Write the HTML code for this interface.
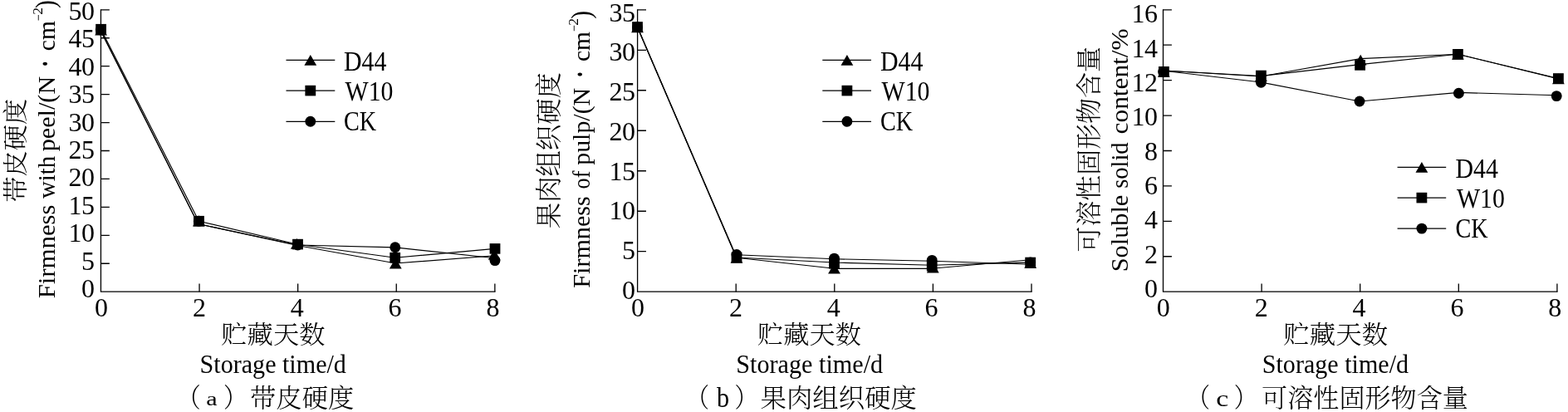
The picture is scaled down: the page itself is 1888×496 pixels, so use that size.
<!DOCTYPE html>
<html lang="zh"><head><meta charset="utf-8"><title>Figure</title>
<style>html,body{margin:0;padding:0;background:#fff}svg{display:block}text{fill:#000}</style></head>
<body><svg width="1888" height="496" viewBox="0 0 1888 496">
<rect width="1888" height="496" fill="#fff"/>
<path d='M121.45,11.15 V351.20 H596.50' fill='none' stroke='#000' stroke-width='1.3'/>
<path d='M121.45,11.80 h10.4 M121.45,45.74 h10.4 M121.45,79.68 h10.4 M121.45,113.62 h10.4 M121.45,147.56 h10.4 M121.45,181.50 h10.4 M121.45,215.44 h10.4 M121.45,249.38 h10.4 M121.45,283.32 h10.4 M121.45,317.26 h10.4 M240.05,351.20 v-9.7 M358.65,351.20 v-9.7 M477.25,351.20 v-9.7 M595.85,351.20 v-9.7 ' fill='none' stroke='#000' stroke-width='1.3'/>
<text x='113.20' y='23.90' text-anchor='end' font-family='"Liberation Serif", "Noto Serif CJK SC", serif' font-size='32' letter-spacing='-0.7'>50</text>
<text x='113.20' y='57.31' text-anchor='end' font-family='"Liberation Serif", "Noto Serif CJK SC", serif' font-size='32' letter-spacing='-0.7'>45</text>
<text x='113.20' y='90.72' text-anchor='end' font-family='"Liberation Serif", "Noto Serif CJK SC", serif' font-size='32' letter-spacing='-0.7'>40</text>
<text x='113.20' y='124.13' text-anchor='end' font-family='"Liberation Serif", "Noto Serif CJK SC", serif' font-size='32' letter-spacing='-0.7'>35</text>
<text x='113.20' y='157.54' text-anchor='end' font-family='"Liberation Serif", "Noto Serif CJK SC", serif' font-size='32' letter-spacing='-0.7'>30</text>
<text x='113.20' y='190.95' text-anchor='end' font-family='"Liberation Serif", "Noto Serif CJK SC", serif' font-size='32' letter-spacing='-0.7'>25</text>
<text x='113.20' y='224.36' text-anchor='end' font-family='"Liberation Serif", "Noto Serif CJK SC", serif' font-size='32' letter-spacing='-0.7'>20</text>
<text x='113.20' y='257.77' text-anchor='end' font-family='"Liberation Serif", "Noto Serif CJK SC", serif' font-size='32' letter-spacing='-0.7'>15</text>
<text x='113.20' y='291.18' text-anchor='end' font-family='"Liberation Serif", "Noto Serif CJK SC", serif' font-size='32' letter-spacing='-0.7'>10</text>
<text x='113.90' y='324.59' text-anchor='end' font-family='"Liberation Serif", "Noto Serif CJK SC", serif' font-size='32'>5</text>
<text x='113.90' y='358.00' text-anchor='end' font-family='"Liberation Serif", "Noto Serif CJK SC", serif' font-size='32'>0</text>
<text x='122.00' y='381.0' text-anchor='middle' font-family='"Liberation Serif", "Noto Serif CJK SC", serif' font-size='32'>0</text>
<text x='239.88' y='381.0' text-anchor='middle' font-family='"Liberation Serif", "Noto Serif CJK SC", serif' font-size='32'>2</text>
<text x='357.75' y='381.0' text-anchor='middle' font-family='"Liberation Serif", "Noto Serif CJK SC", serif' font-size='32'>4</text>
<text x='475.62' y='381.0' text-anchor='middle' font-family='"Liberation Serif", "Noto Serif CJK SC", serif' font-size='32'>6</text>
<text x='593.50' y='381.0' text-anchor='middle' font-family='"Liberation Serif", "Noto Serif CJK SC", serif' font-size='32'>8</text>
<path d='M121.10,36.80 L238.50,269.50 L358.00,295.50 L476.30,317.00 L596.00,307.80' fill='none' stroke='#000' stroke-width='1.15' stroke-linejoin='round'/>
<path d='M121.10,36.80 L238.50,269.50 L358.50,295.00 L475.80,297.90 L596.00,310.80' fill='none' stroke='#000' stroke-width='1.15' stroke-linejoin='round'/>
<path d='M121.60,35.20 L239.40,266.20 L358.50,294.30 L475.70,310.20 L596.00,299.40' fill='none' stroke='#000' stroke-width='1.15' stroke-linejoin='round'/>
<path d='M121.60,29.60 L129.00,42.40 H114.20 Z'/><path d='M239.40,259.60 L246.80,272.40 H232.00 Z'/><path d='M357.30,286.90 L364.70,299.70 H349.90 Z'/><path d='M476.30,310.60 L483.70,323.40 H468.90 Z'/><path d='M595.20,300.00 L602.60,312.80 H587.80 Z'/>
<circle cx='121.30' cy='36.00' r='6.45'/><circle cx='239.40' cy='266.30' r='6.45'/><circle cx='358.50' cy='295.00' r='6.45'/><circle cx='475.80' cy='297.70' r='6.45'/><circle cx='596.00' cy='313.60' r='6.45'/>
<rect x='115.20' y='28.90' width='12.8' height='12.6'/><rect x='233.10' y='259.90' width='12.8' height='12.6'/><rect x='352.10' y='287.80' width='12.8' height='12.6'/><rect x='469.30' y='303.90' width='12.8' height='12.6'/><rect x='589.60' y='293.10' width='12.8' height='12.6'/>
<path d='M344.50,72.40 H403.30' stroke='#000' stroke-width='1.15'/>
<path d='M373.80,66.00 L381.20,78.80 H366.40 Z'/>
<path d='M344.50,109.10 H403.30' stroke='#000' stroke-width='1.15'/>
<rect x='367.40' y='102.80' width='12.8' height='12.6'/>
<path d='M344.50,146.30 H403.30' stroke='#000' stroke-width='1.15'/>
<circle cx='373.80' cy='146.30' r='6.45'/>
<text transform='translate(414.00,84.70) scale(0.9960,1.0895)' font-family='"Liberation Serif", "Noto Serif CJK SC", serif' font-size='30' >D44</text>
<text transform='translate(415.60,121.40) scale(0.9930,1.1368)' font-family='"Liberation Serif", "Noto Serif CJK SC", serif' font-size='30' >W10</text>
<text transform='translate(414.06,157.30) scale(0.9400,1.1579)' font-family='"Liberation Serif", "Noto Serif CJK SC", serif' font-size='30' >CK</text>
<path d='M767.60,11.15 V351.20 H1242.65' fill='none' stroke='#000' stroke-width='1.3'/>
<path d='M767.60,11.80 h10.4 M767.60,60.29 h10.4 M767.60,108.77 h10.4 M767.60,157.26 h10.4 M767.60,205.74 h10.4 M767.60,254.23 h10.4 M767.60,302.71 h10.4 M886.20,351.20 v-9.7 M1004.80,351.20 v-9.7 M1123.40,351.20 v-9.7 M1242.00,351.20 v-9.7 ' fill='none' stroke='#000' stroke-width='1.3'/>
<text x='764.20' y='25.60' text-anchor='end' font-family='"Liberation Serif", "Noto Serif CJK SC", serif' font-size='32' letter-spacing='-0.7'>35</text>
<text x='764.20' y='73.34' text-anchor='end' font-family='"Liberation Serif", "Noto Serif CJK SC", serif' font-size='32' letter-spacing='-0.7'>30</text>
<text x='764.20' y='121.09' text-anchor='end' font-family='"Liberation Serif", "Noto Serif CJK SC", serif' font-size='32' letter-spacing='-0.7'>25</text>
<text x='764.20' y='168.83' text-anchor='end' font-family='"Liberation Serif", "Noto Serif CJK SC", serif' font-size='32' letter-spacing='-0.7'>20</text>
<text x='764.20' y='216.57' text-anchor='end' font-family='"Liberation Serif", "Noto Serif CJK SC", serif' font-size='32' letter-spacing='-0.7'>15</text>
<text x='764.20' y='264.31' text-anchor='end' font-family='"Liberation Serif", "Noto Serif CJK SC", serif' font-size='32' letter-spacing='-0.7'>10</text>
<text x='764.90' y='312.06' text-anchor='end' font-family='"Liberation Serif", "Noto Serif CJK SC", serif' font-size='32'>5</text>
<text x='764.90' y='359.80' text-anchor='end' font-family='"Liberation Serif", "Noto Serif CJK SC", serif' font-size='32'>0</text>
<text x='768.00' y='381.0' text-anchor='middle' font-family='"Liberation Serif", "Noto Serif CJK SC", serif' font-size='32'>0</text>
<text x='885.88' y='381.0' text-anchor='middle' font-family='"Liberation Serif", "Noto Serif CJK SC", serif' font-size='32'>2</text>
<text x='1003.75' y='381.0' text-anchor='middle' font-family='"Liberation Serif", "Noto Serif CJK SC", serif' font-size='32'>4</text>
<text x='1121.62' y='381.0' text-anchor='middle' font-family='"Liberation Serif", "Noto Serif CJK SC", serif' font-size='32'>6</text>
<text x='1239.50' y='381.0' text-anchor='middle' font-family='"Liberation Serif", "Noto Serif CJK SC", serif' font-size='32'>8</text>
<path d='M767.50,32.80 L887.00,310.30 L1004.50,323.30 L1122.20,323.30 L1240.70,312.80' fill='none' stroke='#000' stroke-width='1.15' stroke-linejoin='round'/>
<path d='M767.50,32.80 L886.60,310.00' fill='none' stroke='#000' stroke-width='1.15' stroke-linejoin='round'/>
<path d='M887.00,306.80 L1004.50,311.80 L1122.20,314.30 L1240.70,318.20' fill='none' stroke='#000' stroke-width='1.15' stroke-linejoin='round'/>
<path d='M767.50,32.50 L887.00,310.00 L1004.50,316.00 L1122.20,319.30 L1240.70,315.90' fill='none' stroke='#000' stroke-width='1.15' stroke-linejoin='round'/>
<path d='M767.50,26.40 L774.90,39.20 H760.10 Z'/><path d='M887.00,304.00 L894.40,316.80 H879.60 Z'/><path d='M1004.50,316.80 L1011.90,329.60 H997.10 Z'/><path d='M1123.30,315.60 L1130.70,328.40 H1115.90 Z'/><path d='M1240.70,310.10 L1248.10,322.90 H1233.30 Z'/>
<circle cx='767.50' cy='32.80' r='6.45'/><circle cx='887.00' cy='306.50' r='6.45'/><circle cx='1004.50' cy='311.10' r='6.45'/><circle cx='1122.20' cy='313.40' r='6.45'/><circle cx='1240.70' cy='316.00' r='6.45'/>
<rect x='761.10' y='26.20' width='12.8' height='12.6'/><rect x='880.60' y='303.70' width='12.8' height='12.6'/><rect x='998.10' y='311.00' width='12.8' height='12.6'/><rect x='1115.80' y='313.90' width='12.8' height='12.6'/><rect x='1234.30' y='309.70' width='12.8' height='12.6'/>
<path d='M990.30,72.40 H1049.00' stroke='#000' stroke-width='1.15'/>
<path d='M1019.90,66.00 L1027.30,78.80 H1012.50 Z'/>
<path d='M990.30,109.10 H1049.00' stroke='#000' stroke-width='1.15'/>
<rect x='1013.50' y='102.80' width='12.8' height='12.6'/>
<path d='M990.30,146.30 H1049.00' stroke='#000' stroke-width='1.15'/>
<circle cx='1019.90' cy='146.30' r='6.45'/>
<text transform='translate(1060.00,84.70) scale(0.9960,1.0895)' font-family='"Liberation Serif", "Noto Serif CJK SC", serif' font-size='30' >D44</text>
<text transform='translate(1061.60,121.40) scale(0.9930,1.1368)' font-family='"Liberation Serif", "Noto Serif CJK SC", serif' font-size='30' >W10</text>
<text transform='translate(1060.06,157.30) scale(0.9400,1.1579)' font-family='"Liberation Serif", "Noto Serif CJK SC", serif' font-size='30' >CK</text>
<path d='M1400.50,11.15 V351.20 H1875.55' fill='none' stroke='#000' stroke-width='1.3'/>
<path d='M1400.50,11.80 h10.4 M1400.50,54.22 h10.4 M1400.50,96.65 h10.4 M1400.50,139.07 h10.4 M1400.50,181.50 h10.4 M1400.50,223.93 h10.4 M1400.50,266.35 h10.4 M1400.50,308.77 h10.4 M1519.10,351.20 v-9.7 M1637.70,351.20 v-9.7 M1756.30,351.20 v-9.7 M1874.90,351.20 v-9.7 ' fill='none' stroke='#000' stroke-width='1.3'/>
<text x='1393.20' y='27.40' text-anchor='end' font-family='"Liberation Serif", "Noto Serif CJK SC", serif' font-size='32' letter-spacing='-0.7'>16</text>
<text x='1393.20' y='68.72' text-anchor='end' font-family='"Liberation Serif", "Noto Serif CJK SC", serif' font-size='32' letter-spacing='-0.7'>14</text>
<text x='1393.20' y='110.05' text-anchor='end' font-family='"Liberation Serif", "Noto Serif CJK SC", serif' font-size='32' letter-spacing='-0.7'>12</text>
<text x='1393.20' y='151.38' text-anchor='end' font-family='"Liberation Serif", "Noto Serif CJK SC", serif' font-size='32' letter-spacing='-0.7'>10</text>
<text x='1393.90' y='192.70' text-anchor='end' font-family='"Liberation Serif", "Noto Serif CJK SC", serif' font-size='32'>8</text>
<text x='1393.90' y='234.02' text-anchor='end' font-family='"Liberation Serif", "Noto Serif CJK SC", serif' font-size='32'>6</text>
<text x='1393.90' y='275.35' text-anchor='end' font-family='"Liberation Serif", "Noto Serif CJK SC", serif' font-size='32'>4</text>
<text x='1393.90' y='316.68' text-anchor='end' font-family='"Liberation Serif", "Noto Serif CJK SC", serif' font-size='32'>2</text>
<text x='1393.90' y='358.00' text-anchor='end' font-family='"Liberation Serif", "Noto Serif CJK SC", serif' font-size='32'>0</text>
<text x='1400.80' y='381.0' text-anchor='middle' font-family='"Liberation Serif", "Noto Serif CJK SC", serif' font-size='32'>0</text>
<text x='1518.67' y='381.0' text-anchor='middle' font-family='"Liberation Serif", "Noto Serif CJK SC", serif' font-size='32'>2</text>
<text x='1636.55' y='381.0' text-anchor='middle' font-family='"Liberation Serif", "Noto Serif CJK SC", serif' font-size='32'>4</text>
<text x='1754.42' y='381.0' text-anchor='middle' font-family='"Liberation Serif", "Noto Serif CJK SC", serif' font-size='32'>6</text>
<text x='1872.30' y='381.0' text-anchor='middle' font-family='"Liberation Serif", "Noto Serif CJK SC", serif' font-size='32'>8</text>
<path d='M1401.30,85.00 L1518.40,92.00 L1638.00,70.60 L1755.40,65.20 L1876.40,94.90' fill='none' stroke='#000' stroke-width='1.15' stroke-linejoin='round'/>
<path d='M1401.00,85.30 L1518.40,99.00 L1637.00,122.00 L1756.40,111.40 L1874.20,114.70' fill='none' stroke='#000' stroke-width='1.15' stroke-linejoin='round'/>
<path d='M1401.30,85.00 L1518.40,91.50 L1637.60,77.60 L1755.40,65.30 L1876.40,94.50' fill='none' stroke='#000' stroke-width='1.15' stroke-linejoin='round'/>
<path d='M1401.30,79.90 L1408.70,92.70 H1393.90 Z'/><path d='M1518.40,85.10 L1525.80,97.90 H1511.00 Z'/><path d='M1638.20,65.80 L1645.60,78.60 H1630.80 Z'/><path d='M1755.40,59.00 L1762.80,71.80 H1748.00 Z'/><path d='M1876.40,88.50 L1883.80,101.30 H1869.00 Z'/>
<circle cx='1400.60' cy='86.40' r='6.45'/><circle cx='1518.40' cy='99.30' r='6.45'/><circle cx='1637.00' cy='122.00' r='6.45'/><circle cx='1756.40' cy='112.30' r='6.45'/><circle cx='1874.20' cy='115.60' r='6.45'/>
<rect x='1395.00' y='80.00' width='12.8' height='12.6'/><rect x='1512.00' y='84.70' width='12.8' height='12.6'/><rect x='1631.20' y='72.10' width='12.8' height='12.6'/><rect x='1749.00' y='59.00' width='12.8' height='12.6'/><rect x='1870.00' y='88.20' width='12.8' height='12.6'/>
<path d='M1682.60,201.30 H1741.20' stroke='#000' stroke-width='1.15'/>
<path d='M1711.90,194.90 L1719.30,207.70 H1704.50 Z'/>
<path d='M1682.60,238.10 H1741.20' stroke='#000' stroke-width='1.15'/>
<rect x='1705.50' y='231.80' width='12.8' height='12.6'/>
<path d='M1682.60,275.10 H1741.20' stroke='#000' stroke-width='1.15'/>
<circle cx='1711.90' cy='275.10' r='6.45'/>
<text transform='translate(1752.40,213.60) scale(0.9960,1.0895)' font-family='"Liberation Serif", "Noto Serif CJK SC", serif' font-size='30' >D44</text>
<text transform='translate(1754.00,250.30) scale(0.9930,1.1368)' font-family='"Liberation Serif", "Noto Serif CJK SC", serif' font-size='30' >W10</text>
<text transform='translate(1752.46,286.20) scale(0.9400,1.1579)' font-family='"Liberation Serif", "Noto Serif CJK SC", serif' font-size='30' >CK</text>
<text transform='translate(266.29,413.41) scale(1.0107,0.9621)' font-family='"Liberation Serif", "Noto Serif CJK SC", serif' font-size='31' font-weight='300'>贮藏天数</text>
<text transform='translate(240.59,449.02) scale(1.0035,1.0808)' font-family='"Liberation Serif", "Noto Serif CJK SC", serif' font-size='30' >Storage time/d</text>
<text transform='translate(912.09,413.41) scale(1.0082,0.9621)' font-family='"Liberation Serif", "Noto Serif CJK SC", serif' font-size='31' font-weight='300'>贮藏天数</text>
<text transform='translate(886.19,449.02) scale(1.0069,1.0808)' font-family='"Liberation Serif", "Noto Serif CJK SC", serif' font-size='30' >Storage time/d</text>
<text transform='translate(1545.28,413.41) scale(1.0156,0.9621)' font-family='"Liberation Serif", "Noto Serif CJK SC", serif' font-size='31' font-weight='300'>贮藏天数</text>
<text transform='translate(1519.79,449.02) scale(1.0029,1.0808)' font-family='"Liberation Serif", "Noto Serif CJK SC", serif' font-size='30' >Storage time/d</text>
<text transform='translate(28.90,243.61) rotate(-90) scale(1.0066,0.9655)' font-family='"Liberation Serif", "Noto Serif CJK SC", serif' font-size='31' font-weight='300'>带皮硬度</text>
<text transform='translate(672.23,275.23) rotate(-90) scale(1.0126,1.0241)' font-family='"Liberation Serif", "Noto Serif CJK SC", serif' font-size='31' font-weight='300'>果肉组织硬度</text>
<text transform='translate(1322.38,303.50) rotate(-90) scale(0.9980,1.0069)' font-family='"Liberation Serif", "Noto Serif CJK SC", serif' font-size='31' font-weight='300'>可溶性固形物含量</text>
<text transform='translate(65.50,359.33) rotate(-90) scale(1.0269,1.0000)' font-family='"Liberation Serif", "Noto Serif CJK SC", serif' font-size='30' >Firmness</text>
<text transform='translate(65.50,239.00) rotate(-90) scale(0.9604,1.0000)' font-family='"Liberation Serif", "Noto Serif CJK SC", serif' font-size='30' >with</text>
<text transform='translate(65.50,182.31) rotate(-90) scale(1.0068,1.0000)' font-family='"Liberation Serif", "Noto Serif CJK SC", serif' font-size='30' >peel/(N</text>
<text transform='translate(710.30,346.70) rotate(-90) scale(1.0037,1.0000)' font-family='"Liberation Serif", "Noto Serif CJK SC", serif' font-size='30' >Firmness</text>
<text transform='translate(710.30,227.47) rotate(-90) scale(0.8750,1.0000)' font-family='"Liberation Serif", "Noto Serif CJK SC", serif' font-size='30' >of</text>
<text transform='translate(710.30,198.80) rotate(-90) scale(0.9967,1.0000)' font-family='"Liberation Serif", "Noto Serif CJK SC", serif' font-size='30' >pulp/(N</text>
<text transform='translate(69.57,82.45) rotate(-90) scale(1.1500,1.5333)' font-family='"Liberation Serif", "Noto Serif CJK SC", serif' font-size='30' >·</text>
<text transform='translate(65.50,61.18) rotate(-90) scale(0.9829,1.0000)' font-family='"Liberation Serif", "Noto Serif CJK SC", serif' font-size='30' >cm</text>
<text transform='translate(52.20,25.14) rotate(-90) scale(0.9429,1.2000)' font-family='"Liberation Serif", "Noto Serif CJK SC", serif' font-size='15' >−</text>
<text transform='translate(50.90,17.77) rotate(-90) scale(1.1667,1.1000)' font-family='"Liberation Serif", "Noto Serif CJK SC", serif' font-size='15' >2</text>
<text transform='translate(66.05,9.89) rotate(-90) scale(0.9875,1.1077)' font-family='"Liberation Serif", "Noto Serif CJK SC", serif' font-size='30' >)</text>
<text transform='translate(714.37,95.35) rotate(-90) scale(1.1500,1.5333)' font-family='"Liberation Serif", "Noto Serif CJK SC", serif' font-size='30' >·</text>
<text transform='translate(710.30,74.08) rotate(-90) scale(0.9829,1.0000)' font-family='"Liberation Serif", "Noto Serif CJK SC", serif' font-size='30' >cm</text>
<text transform='translate(697.00,38.04) rotate(-90) scale(0.9429,1.2000)' font-family='"Liberation Serif", "Noto Serif CJK SC", serif' font-size='15' >−</text>
<text transform='translate(695.70,30.67) rotate(-90) scale(1.1667,1.1000)' font-family='"Liberation Serif", "Noto Serif CJK SC", serif' font-size='15' >2</text>
<text transform='translate(710.85,22.79) rotate(-90) scale(0.9875,1.1077)' font-family='"Liberation Serif", "Noto Serif CJK SC", serif' font-size='30' >)</text>
<text transform='translate(1358.20,327.22) rotate(-90) scale(1.0090,1.0000)' font-family='"Liberation Serif", "Noto Serif CJK SC", serif' font-size='30' >Soluble</text>
<text transform='translate(1358.20,226.75) rotate(-90) scale(0.9491,1.0000)' font-family='"Liberation Serif", "Noto Serif CJK SC", serif' font-size='30' >solid</text>
<text transform='translate(1358.20,161.44) rotate(-90) scale(1.0450,1.0000)' font-family='"Liberation Serif", "Noto Serif CJK SC", serif' font-size='30' >content/%</text>
<text transform='translate(213.38,489.92) scale(0.9111,1.0276)' font-family='"Liberation Serif", "Noto Serif CJK SC", serif' font-size='31' font-weight='300'>（</text>
<text transform='translate(248.19,488.40) scale(1.0083,0.8000)' font-family='"Liberation Serif", "Noto Serif CJK SC", serif' font-size='30' >a</text>
<text transform='translate(268.88,489.92) scale(0.9111,1.0276)' font-family='"Liberation Serif", "Noto Serif CJK SC", serif' font-size='31' font-weight='300'>）</text>
<text transform='translate(300.99,489.84) scale(1.0116,0.9862)' font-family='"Liberation Serif", "Noto Serif CJK SC", serif' font-size='31' font-weight='300'>带皮硬度</text>
<text transform='translate(826.42,489.92) scale(0.8889,1.0276)' font-family='"Liberation Serif", "Noto Serif CJK SC", serif' font-size='31' font-weight='300'>（</text>
<text transform='translate(863.00,489.70) scale(1.0071,1.1550)' font-family='"Liberation Serif", "Noto Serif CJK SC", serif' font-size='30' >b</text>
<text transform='translate(884.62,489.92) scale(0.8889,1.0276)' font-family='"Liberation Serif", "Noto Serif CJK SC", serif' font-size='31' font-weight='300'>）</text>
<text transform='translate(915.57,489.84) scale(1.0132,0.9862)' font-family='"Liberation Serif", "Noto Serif CJK SC", serif' font-size='31' font-weight='300'>果肉组织硬度</text>
<text transform='translate(1429.52,489.92) scale(0.8889,1.0276)' font-family='"Liberation Serif", "Noto Serif CJK SC", serif' font-size='31' font-weight='300'>（</text>
<text transform='translate(1464.17,489.40) scale(1.1273,0.9000)' font-family='"Liberation Serif", "Noto Serif CJK SC", serif' font-size='30' >c</text>
<text transform='translate(1485.82,489.92) scale(0.8889,1.0276)' font-family='"Liberation Serif", "Noto Serif CJK SC", serif' font-size='31' font-weight='300'>）</text>
<text transform='translate(1519.09,489.84) scale(1.0037,0.9862)' font-family='"Liberation Serif", "Noto Serif CJK SC", serif' font-size='31' font-weight='300'>可溶性固形物含量</text>
</svg></body></html>
